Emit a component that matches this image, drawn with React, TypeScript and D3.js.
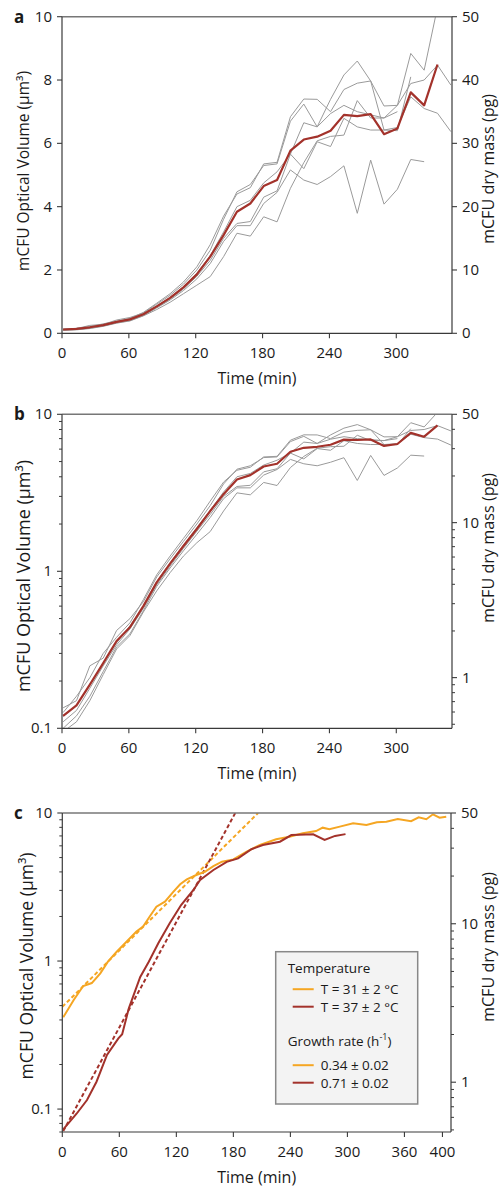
import React from "react";
import * as d3 from "d3";

// ---- panel a / b : single mCFU growth curves (same data, linear & log) ----
const timeAB = [1, 13, 25, 37, 49, 61, 73, 85, 97, 109, 121, 133, 145, 157, 169, 181, 193, 205, 217, 229, 241, 253, 265, 277, 289, 301, 313, 325, 337, 349];

const meanVol = [0.12, 0.14, 0.19, 0.26, 0.36, 0.44, 0.6, 0.85, 1.12, 1.45, 1.86, 2.42, 3.1, 3.84, 4.1, 4.65, 4.84, 5.77, 6.12, 6.21, 6.4, 6.9, 6.86, 6.92, 6.29, 6.47, 7.61, 7.2, 8.49];

const rep1 = [0.135, 0.15, 0.25, 0.28, 0.42, 0.5, 0.64, 0.92, 1.2, 1.55, 2.0, 2.62, 3.6, 4.47, 4.7, 5.3, 5.35, 6.7, 7.24, 6.52, 7.39, 8.16, 8.6, 7.97, 6.42, 6.4, 8.1];
const rep2 = [0.126, 0.16, 0.21, 0.3, 0.38, 0.47, 0.66, 0.95, 1.25, 1.62, 2.1, 2.8, 3.7, 4.4, 4.6, 5.35, 5.4, 6.84, 7.4, 7.39, 7.0, 7.7, 7.9, 7.97, 7.18, 7.2, 8.84, 8.31, 10.3];
const rep3 = [0.119, 0.14, 0.19, 0.26, 0.35, 0.45, 0.6, 0.86, 1.13, 1.47, 1.9, 2.45, 3.2, 4.0, 4.2, 4.75, 5.1, 5.66, 6.65, 6.52, 6.94, 7.2, 7.0, 6.9, 6.8, 7.2, 7.89, 8.0, 8.47, 7.84];
const rep4 = [0.11, 0.13, 0.18, 0.25, 0.34, 0.43, 0.58, 0.82, 1.08, 1.4, 1.8, 2.3, 3.0, 3.47, 3.53, 4.3, 4.5, 5.66, 5.2, 6.05, 5.9, 6.79, 6.52, 6.42, 6.42, 6.5, 7.47, 7.1, 6.95, 6.37];
const rep5 = [0.1, 0.12, 0.16, 0.23, 0.33, 0.4, 0.56, 0.8, 1.05, 1.35, 1.72, 2.2, 2.9, 3.4, 3.4, 4.1, 4.45, 5.16, 4.84, 4.7, 4.95, 5.29, 3.79, 5.47, 4.08, 4.55, 5.49, 5.42];
const rep6 = [0.095, 0.11, 0.15, 0.22, 0.32, 0.39, 0.55, 0.75, 0.98, 1.25, 1.52, 1.79, 2.42, 3.16, 3.07, 3.68, 3.52, 4.58, 5.39, 6.08, 6.22, 6.26, 7.35, 6.8, 6.8, 7.0];
const replicates = [rep1, rep2, rep3, rep4, rep5, rep6];

// ---- panel c : two temperatures ----
const t31 = [1, 12, 22, 31, 40, 48, 57, 66, 78, 85, 92, 99, 108, 117, 124, 131, 141, 150, 159, 168, 180, 194, 208, 225, 239, 253, 267, 274, 281, 292, 306, 320, 331, 341, 353, 367, 375, 383, 390, 397, 404];
const v31 = [0.417, 0.545, 0.678, 0.71, 0.826, 0.99, 1.15, 1.32, 1.58, 1.71, 2.0, 2.33, 2.52, 2.94, 3.3, 3.56, 3.81, 4.01, 4.38, 4.69, 4.86, 5.48, 6.08, 6.64, 6.92, 7.29, 7.55, 7.96, 7.76, 8.09, 8.51, 8.3, 8.65, 8.74, 9.1, 8.8, 9.35, 9.07, 9.8, 9.3, 9.45];
const t37 = [1, 15, 26, 36, 47, 59, 63, 70, 82, 91, 101, 113, 125, 138, 145, 159, 173, 185, 199, 211, 229, 241, 264, 276, 287, 298];
const v37 = [0.073, 0.093, 0.115, 0.153, 0.232, 0.3, 0.32, 0.479, 0.78, 0.99, 1.32, 1.8, 2.39, 3.02, 3.53, 4.12, 4.68, 4.94, 5.69, 6.08, 6.4, 7.1, 7.18, 6.57, 7.0, 7.2];
// exponential fits (straight on the log axis): start and end points
const fit31T = [0, 206];
const fit31V = [0.49, 10];
const fit37T = [1, 182];
const fit37V = [0.071, 10];

const legendTemps = ["T = 31 ± 2 °C", "T = 37 ± 2 °C"];
const legendRates = ["0.34 ± 0.02", "0.71 ± 0.02"];

const ORANGE = "#F5A623";
const DARKRED = "#A3322B";
const GREY = "#9a9a9a";
const FONT = "'Open Sans', sans-serif";

type Pt = [number, number];
const zip = (t: number[], v: number[]): Pt[] => v.map((d, i) => [t[i], d]);

type AxisSpec = {
  scale: any;
  major: number[];
  minor: number[];
  fmt: (d: number) => string;
};

// per-panel title placement (sizes differ slightly in the original figure)
const titleCfg: Record<string, any> = {
  a: { lSize: 15.5, lx: 29, ly: 171, rSize: 16.2, rx: 494, ry: 169 },
  b: { lSize: 18, lx: 30, ly: 576, rSize: 16.2, rx: 494, ry: 548 },
  c: { lSize: 17.6, lx: 33, ly: 966, rSize: 16.2, rx: 494, ry: 947 },
};

function Frame({ x, yl, yr, xTicks, x0, x1, y0, y1, label }: any) {
  const ax = "#3a3a3a";
  const tc = titleCfg[label];
  return (
    <g fontFamily={FONT} fontSize={15} fill="#1a1a1a">
      <line x1={x0} x2={x1} y1={y0} y2={y0} stroke="#777" strokeWidth={1.6} />
      <line x1={x0} x2={x0} y1={y0} y2={y1} stroke={ax} strokeWidth={1.2} />
      <line x1={x1} x2={x1} y1={y0} y2={y1} stroke={ax} strokeWidth={1.2} />
      <line x1={x0} x2={x1} y1={y1} y2={y1} stroke={ax} strokeWidth={1.2} />
      {xTicks.map((t: number) => (
        <g key={"x" + t}>
          <line x1={x(t)} x2={x(t)} y1={y1} y2={y1 + 5} stroke={ax} strokeWidth={1.1} />
          <text x={x(t)} y={y1 + 25} textAnchor="middle">{t}</text>
        </g>
      ))}
      {(yl as AxisSpec).major.map((v) => (
        <g key={"yl" + v}>
          <line x1={x0 - 5} x2={x0} y1={yl.scale(v)} y2={yl.scale(v)} stroke={ax} strokeWidth={1.1} />
          <text x={x0 - 10} y={yl.scale(v) + 5} textAnchor="end">{yl.fmt(v)}</text>
        </g>
      ))}
      {(yl as AxisSpec).minor.map((v) => (
        <line key={"ylm" + v} x1={x0 - 3} x2={x0} y1={yl.scale(v)} y2={yl.scale(v)} stroke={ax} strokeWidth={1} />
      ))}
      {(yr as AxisSpec).major.map((v) => (
        <g key={"yr" + v}>
          <line x1={x1} x2={x1 + 5} y1={yr.scale(v)} y2={yr.scale(v)} stroke={ax} strokeWidth={1.1} />
          <text x={x1 + 10} y={yr.scale(v) + 5} textAnchor="start">{yr.fmt(v)}</text>
        </g>
      ))}
      {(yr as AxisSpec).minor.map((v) => (
        <line key={"yrm" + v} x1={x1} x2={x1 + 3} y1={yr.scale(v)} y2={yr.scale(v)} stroke={ax} strokeWidth={1} />
      ))}
      <text x={(x0 + x1) / 2} y={y1 + 51} textAnchor="middle" fontSize={16}>Time (min)</text>
      <text transform={`translate(${tc.lx},${tc.ly}) rotate(-90)`} textAnchor="middle" fontSize={tc.lSize}>
        mCFU Optical Volume (µm³)
      </text>
      <text transform={`translate(${tc.rx},${tc.ry}) rotate(-90)`} textAnchor="middle" fontSize={tc.rSize}>
        mCFU dry mass (pg)
      </text>
      <text x={14} y={y0 + 6} fontWeight="bold" fontSize={17}>{label}</text>
    </g>
  );
}

const logMinor = (lo: number, hi: number, majors: number[]) => {
  const out: number[] = [];
  for (let e = -2; e <= 2; e++) {
    for (let m = 1; m < 10; m++) {
      const v = +(m * Math.pow(10, e)).toPrecision(3);
      if (v >= lo && v <= hi && !majors.includes(v)) out.push(v);
    }
  }
  return out;
};

function PanelAB({ log }: { log: boolean }) {
  const x0 = 62, x1 = 452;
  const y0 = log ? 414.3 : 16.7;
  const y1 = log ? 728.3 : 333.3;
  const x = d3.scaleLinear().domain([0, 350]).range([x0, x1]);
  let yl: AxisSpec, yr: AxisSpec;
  if (log) {
    const s = d3.scaleLog().domain([0.1, 10]).range([y1, y0]);
    const r = d3.scaleLog().domain([0.471, 50]).range([y1, y0]);
    yl = { scale: s, major: [0.1, 1, 10], minor: logMinor(0.1, 10, [0.1, 1, 10]), fmt: (d) => String(d) };
    yr = { scale: r, major: [1, 10, 50], minor: logMinor(0.471, 50, [1, 10, 50]), fmt: (d) => String(d) };
  } else {
    const s = d3.scaleLinear().domain([0, 10]).range([y1, y0]);
    const r = d3.scaleLinear().domain([0, 50]).range([y1, y0]);
    yl = { scale: s, major: [0, 2, 4, 6, 8, 10], minor: [], fmt: (d) => String(d) };
    yr = { scale: r, major: [0, 10, 20, 30, 40, 50], minor: [], fmt: (d) => String(d) };
  }
  const line = d3
    .line<Pt>()
    .x((d) => x(d[0]))
    .y((d) => yl.scale(d[1]));
  const id = log ? "clipB" : "clipA";
  return (
    <g>
      <clipPath id={id}>
        <rect x={x0} y={y0} width={x1 - x0} height={y1 - y0} />
      </clipPath>
      <g clipPath={`url(#${id})`} fill="none">
        {replicates.map((r, i) => (
          <path key={i} d={line(zip(timeAB, r)) || ""} stroke={GREY} strokeWidth={1} />
        ))}
        <path d={line(zip(timeAB, meanVol)) || ""} stroke={DARKRED} strokeWidth={2.2} strokeLinejoin="round" />
      </g>
      <Frame x={x} yl={yl} yr={yr} xTicks={[0, 60, 120, 180, 240, 300]} x0={x0} x1={x1} y0={y0} y1={y1} label={log ? "b" : "a"} />
    </g>
  );
}

function PanelC() {
  const x0 = 62.3, x1 = 451, y0 = 813, y1 = 1132;
  const x = d3.scaleLinear().domain([0, 409]).range([x0, x1]);
  const s = d3.scaleLog().domain([0.07, 10]).range([y1, y0]);
  const r = d3.scaleLog().domain([0.485, 50]).range([y1, y0]);
  const yl: AxisSpec = { scale: s, major: [0.1, 1, 10], minor: logMinor(0.07, 10, [0.1, 1, 10]), fmt: (d) => String(d) };
  const yr: AxisSpec = { scale: r, major: [1, 10, 50], minor: logMinor(0.485, 50, [1, 10, 50]), fmt: (d) => String(d) };
  const line = d3
    .line<Pt>()
    .x((d) => x(d[0]))
    .y((d) => s(d[1]));
  const lx = 275.7, ly = 951.7, lw = 142, lh = 152.3;
  return (
    <g>
      <clipPath id="clipC">
        <rect x={x0} y={y0} width={x1 - x0} height={y1 - y0} />
      </clipPath>
      <g clipPath="url(#clipC)" fill="none" strokeWidth={2}>
        <path d={line(zip(fit31T, fit31V)) || ""} stroke={ORANGE} strokeDasharray="4,2.5" />
        <path d={line(zip(fit37T, fit37V)) || ""} stroke={DARKRED} strokeDasharray="4,2.5" />
        <path d={line(zip(t31, v31)) || ""} stroke={ORANGE} />
        <path d={line(zip(t37, v37)) || ""} stroke={DARKRED} />
      </g>
      <Frame x={x} yl={yl} yr={yr} xTicks={[0, 60, 120, 180, 240, 300, 360, 400]} x0={x0} x1={x1} y0={y0} y1={y1} label="c" />
      <g fontFamily={FONT} fontSize={13.5} fill="#1a1a1a">
        <rect x={lx} y={ly} width={lw} height={lh} fill="#f3f3f3" stroke="#888" strokeWidth={1.5} />
        <text x={lx + 12} y={ly + 21}>Temperature</text>
        {legendTemps.map((t, i) => (
          <g key={t}>
            <line x1={lx + 17} x2={lx + 38} y1={ly + 37.5 + i * 17.5} y2={ly + 37.5 + i * 17.5} stroke={i === 0 ? ORANGE : DARKRED} strokeWidth={2} />
            <text x={lx + 45} y={ly + 42.5 + i * 17.5}>{t}</text>
          </g>
        ))}
        <text x={lx + 12} y={ly + 94}>
          Growth rate (h<tspan fontSize={9} dy={-6}>-1</tspan><tspan dy={6}>)</tspan>
        </text>
        {legendRates.map((t, i) => (
          <g key={t}>
            <line x1={lx + 17} x2={lx + 38} y1={ly + 113.5 + i * 17.5} y2={ly + 113.5 + i * 17.5} stroke={i === 0 ? ORANGE : DARKRED} strokeWidth={2} />
            <text x={lx + 45} y={ly + 118.5 + i * 17.5}>{t}</text>
          </g>
        ))}
      </g>
    </g>
  );
}

export default function App() {
  return (
    <svg width={499} height={1187} style={{ position: "absolute", left: 0, top: 0, background: "#fff" }}>
      <PanelAB log={false} />
      <PanelAB log={true} />
      <PanelC />
    </svg>
  );
}
